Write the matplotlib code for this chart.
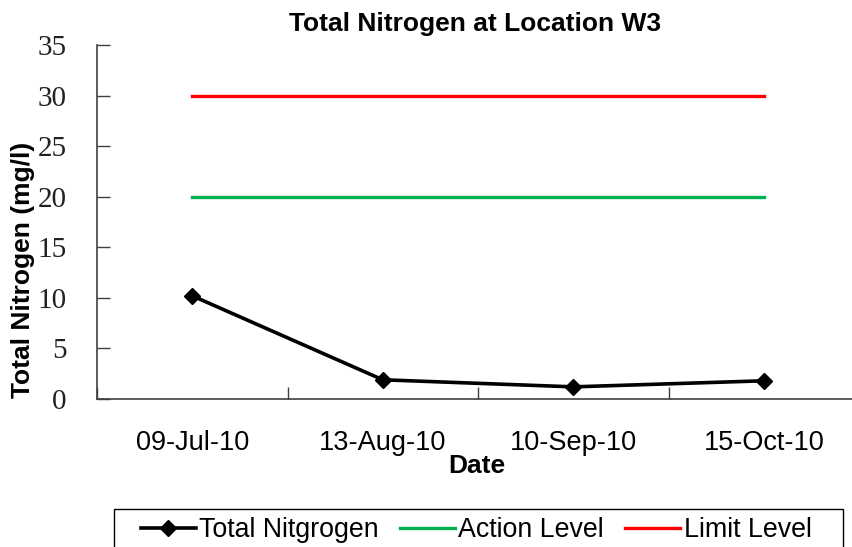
import matplotlib
matplotlib.use("Agg")
import matplotlib.pyplot as plt
from matplotlib.ticker import FixedLocator, MultipleLocator
from matplotlib.patches import Rectangle

dates = ["09-Jul-10", "13-Aug-10", "10-Sep-10", "15-Oct-10"]
total_nitrogen = [10.2, 1.9, 1.2, 1.8]
action_level = [20, 20, 20, 20]
limit_level = [30, 30, 30, 30]

plt.rcParams['font.family'] = ['Liberation Sans', 'DejaVu Sans']

fig = plt.figure(figsize=(8.52, 5.47), dpi=100)
W, H = 852, 547
ax = fig.add_axes([97 / W, 1 - 399 / H, (859 - 97) / W, (399 - 45) / H])

x = list(range(len(dates)))
ax.plot(x, total_nitrogen, color='black', lw=2.6, marker='D', ms=8,
        label='Total Nitgrogen')
ax.plot(x, action_level, color='#00B050', lw=2.4, label='Action Level')
ax.plot(x, limit_level, color='#FF0000', lw=2.4, label='Limit Level')

ax.set_xlim(-0.5, len(dates) - 0.5)
ax.set_ylim(0, 35)
ax.yaxis.set_major_locator(MultipleLocator(5))
ax.set_xticks(x)
ax.set_xticklabels(dates, fontsize=19.5)
ax.xaxis.set_minor_locator(FixedLocator([i - 0.5 for i in range(len(dates) + 1)]))
ax.tick_params(axis='x', which='major', length=0, pad=22)
ax.tick_params(axis='x', which='minor', direction='in', length=9, width=1, color='#404040')
ax.tick_params(axis='y', direction='in', length=9, width=1, color='#404040', pad=22)
for lbl in ax.get_yticklabels():
    lbl.set_fontfamily(['Liberation Serif', 'DejaVu Serif'])
    lbl.set_fontsize(21)
    lbl.set_color('#222222')

for s in ['top', 'right']:
    ax.spines[s].set_visible(False)
for s in ['left', 'bottom']:
    ax.spines[s].set_color('#404040')
    ax.spines[s].set_linewidth(1.2)

ax.set_title('Total Nitrogen at Location W3', fontsize=19, fontweight='bold', pad=10,
             x=(475 - 97) / (859 - 97))
ax.set_xlabel('Date', fontsize=19, fontweight='bold', labelpad=0)
ax.xaxis.set_label_coords((477 - 97) / (859 - 97), -(466 - 399) / (399 - 45))
ax.xaxis.label.set_va('center')
fig.text(23 / W, 1 - 270 / H, 'Total Nitrogen (mg/l)', rotation=90, fontsize=19,
         fontweight='bold', ha='center', va='center')

# legend box
fig.patches.append(Rectangle((114 / W, 1 - 570 / H), (843 - 114) / W, (570 - 509) / H,
                             transform=fig.transFigure, fill=False, edgecolor='black',
                             linewidth=1.0))
leg = fig.legend(loc='upper left', bbox_to_anchor=(141 / W, 1 - 517 / H), ncol=3,
                 fontsize=19.3, frameon=False,
                 handlelength=2.05, handletextpad=0.12, columnspacing=0.8,
                 borderpad=0, borderaxespad=0)

fig.savefig('out.png', dpi=100)
